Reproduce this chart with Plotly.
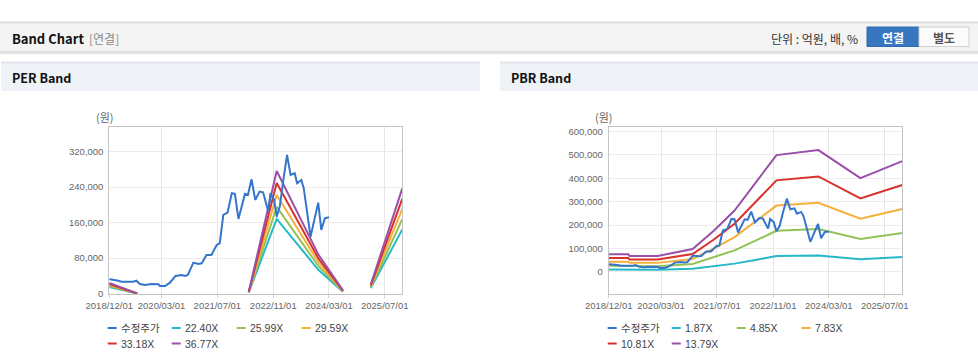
import plotly.graph_objects as go

W, H = 978, 361

# ---------------- data ----------------
price_dates = [
    "2018-12-01", "2018-12-07", "2019-02-19", "2019-03-16", "2019-06-28", "2019-07-25",
    "2019-08-25", "2019-10-07", "2019-12-04", "2020-02-04", "2020-02-16", "2020-04-01",
    "2020-05-13", "2020-07-01", "2020-08-22", "2020-09-22", "2020-10-16", "2020-12-04",
    "2021-01-16", "2021-02-15", "2021-03-28", "2021-05-10", "2021-06-25", "2021-07-22",
    "2021-08-22", "2021-09-28", "2021-11-04", "2021-12-01", "2022-01-01", "2022-02-27",
    "2022-03-25", "2022-04-25", "2022-05-28", "2022-07-04", "2022-08-04", "2022-09-19",
    "2022-10-07", "2022-11-07", "2022-12-01", "2022-12-28", "2023-01-28", "2023-03-01",
    "2023-04-01", "2023-05-07", "2023-05-28", "2023-07-04", "2023-07-25", "2023-09-22",
    "2023-11-28", "2023-12-25", "2024-01-25", "2024-03-01",
]
price_values = [
    33000, 32400, 29300, 27000, 27000, 29300,
    21800, 19600, 21800, 21100, 17300, 17300,
    24800, 39900, 42100, 39900, 42100, 69900,
    66900, 68400, 87200, 87200, 109700, 113500,
    177300, 182500, 226300, 224700, 168300, 224700,
    222400, 257800, 211100, 229900, 228400, 184800,
    226000, 212700, 173500, 196000, 256200, 312600,
    267500, 271300, 248800, 256200, 237500, 128400,
    205000, 143500, 169900, 172200,
]

per_band_dates = ["2018-12-01", "2019-08-01", "2021-01-01", "2022-04-01", "2022-12-01",
                  "2023-12-01", "2024-07-01", "2024-11-01", "2025-03-01", "2025-12-01"]
per_22_40 = [14784, 336, None, 2688, 168336, 53312, 4480, None, 12544, 144480]
per_25_99 = [17153, 390, None, 3119, 195315, 61856, 5198, None, 14554, 167636]
per_29_59 = [19529, 444, None, 3551, 222369, 70424, 5918, None, 16570, 190856]
per_33_18 = [21899, 498, None, 3982, 249348, 78968, 6636, None, 18581, 214011]
per_36_77 = [24268, 552, None, 4412, 276327, 87513, 7354, None, 20591, 237167]
per_labels = ["22.40X", "25.99X", "29.59X", "33.18X", "36.77X"]

pbr_band_dates = ["2018-12-01", "2019-05-20", "2019-06-01", "2020-02-01", "2020-12-01",
                  "2021-06-01", "2021-12-01", "2022-06-01", "2022-12-01", "2023-12-01",
                  "2024-12-01", "2025-12-01"]
pbr_1_87 = [10300, 10300, 9260, 9260, 13280, 23750, 35530, 51430, 67600, 70500, 54230, 64140]
pbr_4_85 = [26680, 26680, 24010, 24010, 34440, 61600, 92150, 133380, 175330, 182850, 140650, 166360]
pbr_7_83 = [43070, 43070, 38760, 38760, 55590, 99440, 148770, 215330, 283050, 295190, 227070, 268570]
pbr_10_81 = [59460, 59460, 53510, 53510, 76750, 137290, 205390, 297280, 390780, 407540, 313490, 370780]
pbr_13_79 = [75850, 75850, 68260, 68260, 97910, 175130, 262010, 379230, 498510, 519880, 399910, 473000]
pbr_labels = ["1.87X", "4.85X", "7.83X", "10.81X", "13.79X"]

price_label = "수정주가"

x_tick_vals = ["2018-12-01", "2020-03-01", "2021-07-01", "2022-11-01", "2024-03-01", "2025-07-01"]
x_tick_text = ["2018/12/01", "2020/03/01", "2021/07/01", "2022/11/01", "2024/03/01", "2025/07/01"]
x_range = ["2018-12-01", "2025-12-01"]
per_y_ticks = [0, 80000, 160000, 240000, 320000]
per_y_range = [0, 376000]
pbr_y_ticks = [0, 100000, 200000, 300000, 400000, 500000, 600000]
pbr_y_range = [-94000, 617000]

# ---------------- styles ----------------
PRICE_COLOR = "#3575cc"
BAND_COLORS = ["#26b8c6", "#92c155", "#f5b03a", "#d8302b", "#9a4fa8"]
TICK_FONT = dict(family="Liberation Sans, Noto Sans CJK KR", size=9.5, color="#666666")
KFONT = "Noto Sans CJK KR, Liberation Sans"


def px(x):
    return x / W


def py(y):
    return 1 - y / H


fig = go.Figure()

per_series = [per_22_40, per_25_99, per_29_59, per_33_18, per_36_77]
pbr_series = [pbr_1_87, pbr_4_85, pbr_7_83, pbr_10_81, pbr_13_79]

for vals, lab, col in zip(per_series, per_labels, BAND_COLORS):
    fig.add_trace(go.Scatter(x=per_band_dates, y=vals, name=lab, mode="lines",
                             line=dict(color=col, width=2), xaxis="x", yaxis="y",
                             showlegend=False, connectgaps=False))
fig.add_trace(go.Scatter(x=price_dates, y=price_values, name=price_label, mode="lines",
                         line=dict(color=PRICE_COLOR, width=2), xaxis="x", yaxis="y",
                         showlegend=False))

for vals, lab, col in zip(pbr_series, pbr_labels, BAND_COLORS):
    fig.add_trace(go.Scatter(x=pbr_band_dates, y=vals, name=lab, mode="lines",
                             line=dict(color=col, width=2), xaxis="x2", yaxis="y2",
                             showlegend=False))
fig.add_trace(go.Scatter(x=price_dates, y=price_values, name=price_label, mode="lines",
                         line=dict(color=PRICE_COLOR, width=2), xaxis="x2", yaxis="y2",
                         showlegend=False))

common_x = dict(type="date", range=x_range, tickvals=x_tick_vals, ticktext=x_tick_text,
                showgrid=True, gridcolor="#e6e6e6", gridwidth=1,
                showline=True, linecolor="#c4c4c4", linewidth=1, mirror=True,
                ticks="outside", ticklen=3, tickcolor="#d0d0d0", automargin=False,
                tickfont=TICK_FONT, zeroline=False, fixedrange=True)
common_y = dict(showgrid=True, gridcolor="#ececec", gridwidth=1,
                showline=True, linecolor="#c4c4c4", linewidth=1, mirror=True,
                ticks="", tickformat=",d", tickfont=TICK_FONT, zeroline=False,
                ticklabelstandoff=3, fixedrange=True, automargin=False)

fig.update_layout(
    width=W, height=H, autosize=False,
    margin=dict(l=0, r=0, t=0, b=0, pad=0, autoexpand=False),
    paper_bgcolor="white", plot_bgcolor="white",
    showlegend=False,
    xaxis=dict(domain=[px(109.3), px(402.3)], anchor="y", **common_x),
    yaxis=dict(domain=[py(293.7), py(126.7)], anchor="x", range=per_y_range,
               tickvals=per_y_ticks, **common_y),
    xaxis2=dict(domain=[px(608.7), px(902.3)], anchor="y2", **common_x),
    yaxis2=dict(domain=[py(294), py(127.3)], anchor="x2", range=pbr_y_range,
                tickvals=pbr_y_ticks, **common_y),
)

shapes = []
annotations = []


def rect(x0, y0, x1, y1, fill, line_color=None, lw=0, layer="below"):
    shapes.append(dict(type="rect", xref="paper", yref="paper",
                       x0=px(x0), x1=px(x1), y0=py(y1), y1=py(y0),
                       fillcolor=fill, layer=layer,
                       line=dict(color=line_color or fill, width=lw)))


def hline(x0, x1, y, color, lw=1, layer="below"):
    shapes.append(dict(type="line", xref="paper", yref="paper",
                       x0=px(x0), x1=px(x1), y0=py(y), y1=py(y), layer=layer,
                       line=dict(color=color, width=lw)))


def text(x, y, s, size=12, color="#222", anchor="left", family=KFONT):
    annotations.append(dict(xref="paper", yref="paper", x=px(x), y=py(y), text=s,
                            showarrow=False, xanchor=anchor, yanchor="middle",
                            font=dict(family=family, size=size, color=color)))


# top header band
rect(0, 22, W, 52, "#f4f4f4")
hline(0, W, 22.5, "#dedede", 2)
hline(0, W, 52, "#d4d4d4", 1.5)
hline(0, W, 53.5, "#e8e8e8", 1.5)
text(10, 38, "<b>Band Chart</b>", size=13, color="#111")
text(87, 38, "[연결]", size=12, color="#8a8a8a")
text(860, 38, "단위 : 억원, 배, %", size=12, color="#333", anchor="right")
# buttons
rect(867, 27, 919, 46.5, "#3677c0", "#2e6aad", 1, layer="above")
rect(919, 27, 969, 46.5, "#fbfbfb", "#cfcfcf", 1, layer="above")
text(893, 37, "<b>연결</b>", size=12, color="white", anchor="center")
text(944, 37, "<b>별도</b>", size=12, color="#555", anchor="center")

# panel headers
for x0, x1, title in [(1, 480, "PER Band"), (500, W, "PBR Band")]:
    rect(x0, 62, x1, 91, "#eff2f7")
    hline(x0, x1, 62.5, "#e2e6ec", 2)
    text(x0 + 9, 78, f"<b>{title}</b>", size=12.5, color="#111")

# unit labels
text(105, 117, "(원)", size=11, color="#666", anchor="center")
text(604, 117, "(원)", size=11, color="#666", anchor="center")

# manual legends
col_off = [0, 64, 129, 194]
for base, labels in [(107.7, per_labels), (607.7, pbr_labels)]:
    items = [(price_label, PRICE_COLOR)] + list(zip(labels, BAND_COLORS))
    for i, (lab, col) in enumerate(items):
        r, c = divmod(i, 4)
        kx = base + col_off[c]
        ky = 328 + r * 15.5
        shapes.append(dict(type="line", xref="paper", yref="paper",
                           x0=px(kx), x1=px(kx + 9), y0=py(ky), y1=py(ky),
                           line=dict(color=col, width=2)))
        text(kx + 11, ky, lab, size=10.5, color="#444",
             family="Liberation Sans, Noto Sans CJK KR")

fig.update_layout(shapes=shapes, annotations=annotations)
fig.write_html(
    "out.html",
    config={"displayModeBar": False, "displaylogo": False, "staticPlot": True},
    post_script="document.body.style.margin='0';document.body.style.padding='0';",
)
